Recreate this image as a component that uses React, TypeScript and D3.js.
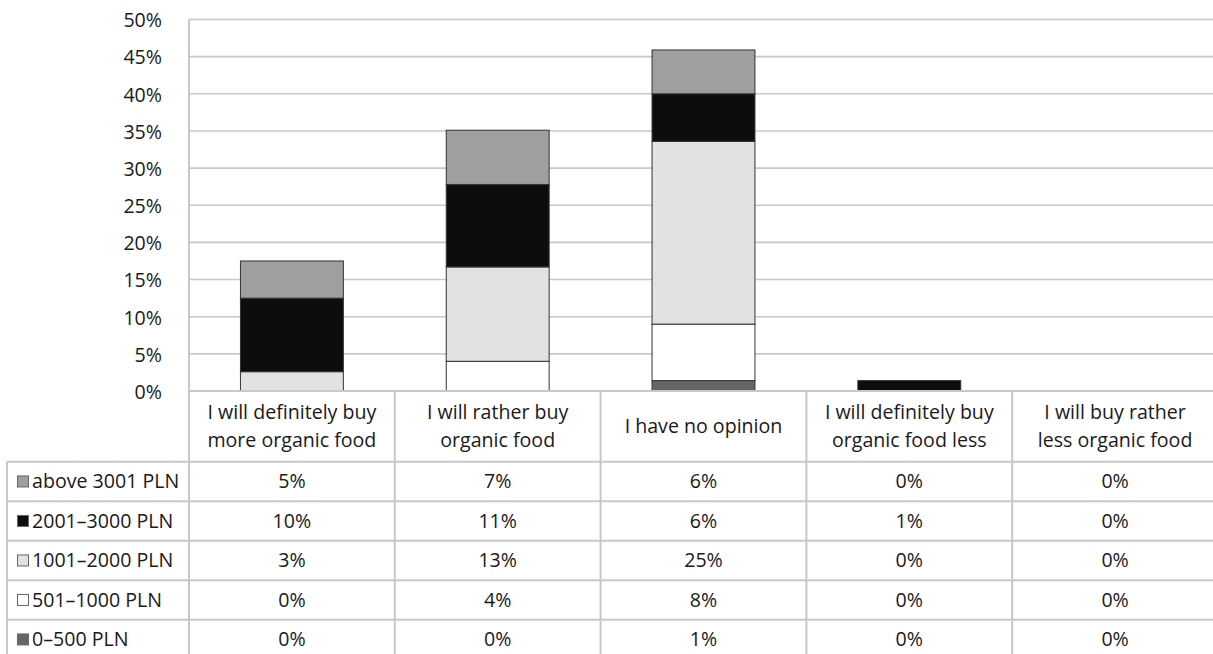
import React from "react";
import * as d3 from "d3";

// Answer categories (column headers of the data table, wrapped as drawn)
const categories = [
  "I will definitely buy more organic food",
  "I will rather buy organic food",
  "I have no opinion",
  "I will definitely buy organic food less",
  "I will buy rather less organic food",
];
const categoryLines = [
  ["I will definitely buy", "more organic food"],
  ["I will rather buy", "organic food"],
  ["I have no opinion"],
  ["I will definitely buy", "organic food less"],
  ["I will buy rather", "less organic food"],
];

// Income groups, bottom of the stack first
const incomeGroups = ["0–500 PLN", "501–1000 PLN", "1001–2000 PLN", "2001–3000 PLN", "above 3001 PLN"];
const groupColors = ["#666666", "#ffffff", "#e1e2e1", "#0d0d0d", "#9e9fa1"];

// Share of respondents (%) per income group and answer
const pln0_500 = [0, 0, 1.4, 0, 0];
const pln501_1000 = [0, 4.0, 7.6, 0, 0];
const pln1001_2000 = [2.6, 12.7, 24.6, 0, 0];
const pln2001_3000 = [9.9, 11.1, 6.4, 1.4, 0];
const plnAbove3001 = [5.0, 7.3, 5.9, 0, 0];

const yTicks = [0, 5, 10, 15, 20, 25, 30, 35, 40, 45, 50];

const series = [pln0_500, pln501_1000, pln1001_2000, pln2001_3000, plnAbove3001];

const W = 1213;
const H = 654;
const FONT = "'Open Sans', Lato, sans-serif";
const FS = 19.6;
const GRID = "#c8c8c8";
const INK = "#1a1a1a";

export default function App() {
  const left = 189;
  const right = 1218;
  const y = d3.scaleLinear().domain([0, 50]).range([391, 19.5]);
  const x = d3
    .scaleBand<string>()
    .domain(categories)
    .range([left, right])
    .paddingInner(0.5)
    .paddingOuter(0.25);
  const step = x.step();
  const colStart = (i: number) => left + i * step;

  const rows = categories.map((c, i) => {
    const r: Record<string, any> = { category: c };
    incomeGroups.forEach((g, k) => (r[g] = series[k][i]));
    return r;
  });
  const stacked = d3.stack<Record<string, any>>().keys(incomeGroups)(rows);

  // data table geometry
  const headerTop = y(0);
  const headerBottom = 461.7;
  const rowH = 39.5;
  const tableRows = [...incomeGroups].reverse();
  const tableBottom = headerBottom + rowH * tableRows.length;
  const fmt = (v: number) => `${Math.round(v)}%`;

  return (
    <svg
      width={W}
      height={H}
      style={{ position: "absolute", left: 0, top: 0, background: "#fff" }}
      fontFamily={FONT}
    >
      {/* horizontal gridlines and y tick labels */}
      {yTicks.map((t) => (
        <g key={t}>
          <line x1={left} x2={right} y1={y(t)} y2={y(t)} stroke={GRID} strokeWidth={1.6} />
          <text x={162} y={y(t)} dy="0.4em" textAnchor="end" fontSize={FS} fill={INK}>
            {t}%
          </text>
        </g>
      ))}
      {/* y axis line */}
      <line x1={left} x2={left} y1={y(50)} y2={tableBottom} stroke={GRID} strokeWidth={2} />

      {/* stacked bars */}
      {stacked.map((layer, k) => (
        <g key={layer.key}>
          {layer.map((d, i) =>
            d[1] - d[0] > 0 ? (
              <rect
                key={i}
                x={x(categories[i])!}
                width={x.bandwidth()}
                y={y(d[1])}
                height={y(d[0]) - y(d[1])}
                fill={groupColors[k]}
                stroke="#333"
                strokeWidth={1}
              />
            ) : null
          )}
        </g>
      ))}

      {/* data table: column dividers */}
      {categories.map((c, i) => (
        <line
          key={c}
          x1={colStart(i + 1)}
          x2={colStart(i + 1)}
          y1={headerTop}
          y2={tableBottom}
          stroke={GRID}
          strokeWidth={2}
        />
      ))}
      <line x1={7} x2={7} y1={headerBottom} y2={tableBottom} stroke={GRID} strokeWidth={2} />
      {/* row lines */}
      <line x1={left} x2={right} y1={headerTop} y2={headerTop} stroke={GRID} strokeWidth={2} />
      {tableRows.map((g, r) => (
        <line
          key={g}
          x1={7}
          x2={right}
          y1={headerBottom + r * rowH}
          y2={headerBottom + r * rowH}
          stroke={GRID}
          strokeWidth={2}
        />
      ))}

      {/* column headers */}
      {categoryLines.map((lines, i) => {
        const cx = x(categories[i])! + x.bandwidth() / 2;
        const mid = (headerTop + headerBottom) / 2;
        const lh = 27.5;
        return (
          <text key={i} textAnchor="middle" fontSize={FS} fill={INK}>
            {lines.map((ln, j) => (
              <tspan key={j} x={cx} y={mid + (j - (lines.length - 1) / 2) * lh} dy="0.35em">
                {ln}
              </tspan>
            ))}
          </text>
        );
      })}

      {/* row legend keys and values */}
      {tableRows.map((g, r) => {
        const k = incomeGroups.indexOf(g);
        const cy = headerBottom + r * rowH + rowH / 2;
        return (
          <g key={g}>
            <rect x={17.5} y={cy - 5.5} width={11} height={11} fill={groupColors[k]} stroke="#666" strokeWidth={1} />
            <text x={32} y={cy} dy="0.35em" fontSize={FS} fill={INK}>
              {g}
            </text>
            {categories.map((c, i) => (
              <text
                key={c}
                x={x(c)! + x.bandwidth() / 2}
                y={cy}
                dy="0.35em"
                textAnchor="middle"
                fontSize={FS}
                fill={INK}
              >
                {fmt(series[k][i])}
              </text>
            ))}
          </g>
        );
      })}
    </svg>
  );
}
